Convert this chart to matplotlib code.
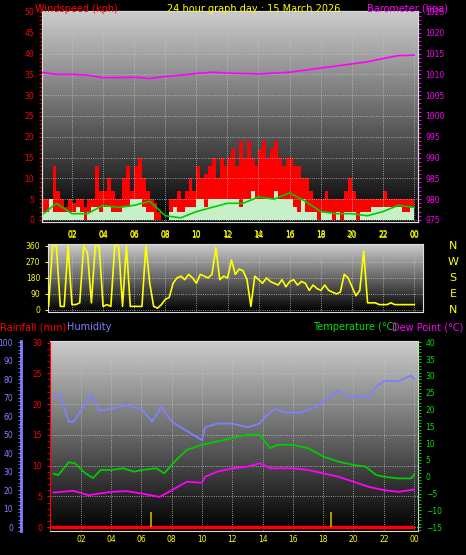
import matplotlib
matplotlib.use("Agg")
import matplotlib.pyplot as plt
import numpy as np
from matplotlib.ticker import MultipleLocator

q_hours = [i * 0.25 for i in range(96)]
gust = [5,5,5,13, 7,5,3,5, 4,5,5,3, 5,5,13,7, 7,10,7,5, 5,10,13,7, 13,15,10,7, 5,4,2,0,
        0,5,5,7, 5,7,10,7, 13,10,11,13, 15,10,15,13, 15,17,13,19, 15,19,15,13, 17,19,15,17,
        19,15,13,15, 15,13,13,10, 10,7,5,5, 5,7,5,5, 5,5,7,10, 7,5,5,5, 5,5,5,5, 7,5,5,5, 5,5,5,5]
speed = [2,2,5,2, 2,2,2,2, 2,3,2,0, 2,3,3,2, 3,3,2,2, 2,3,3,5, 5,5,3,2, 2,0,0,0,
         0,2,3,2, 2,3,3,3, 5,5,3,5, 5,5,5,5, 5,5,5,3, 5,5,7,5, 5,5,5,5, 7,5,5,5,
         5,3,2,5, 2,2,2,0, 2,2,2,0, 2,0,2,2, 2,0,2,2, 2,3,3,3, 3,3,3,3, 3,2,2,3]
h_hours = list(range(25))
avg_wind = [1,4,1.5,1.5,3.5,3,3.5,4.5,1,0.5,2,3,4,4,5.5,5,6.5,4.5,2,1.5,1.5,1,2,3.5,3]
pressure = [1010.5,1010,1010,1009.8,1009.2,1009.2,1009.3,1009.0,1009.5,1009.8,1010.2,1010.5,
            1010.3,1010.2,1010.1,1010.3,1010.5,1011,1011.5,1012,1012.5,1013,1013.8,1014.5,1014.6]
dir_hours = [i * 0.25 for i in range(97)]
direction = [30,20,20,360, 360,20,20,360, 30,30,40,360, 320,40,360,360, 20,30,20,360,
             360,20,360,20, 20,20,20,360, 150,20,10,30, 60,70,150,180, 190,170,200,180,
             150,200,190,180, 200,350,170,190, 180,280,200,230, 220,170,20,190,
             170,150,180,160, 150,140,170,130, 160,170,140,160, 150,110,140,120,
             110,140,110,100, 90,100,200,180, 130,80,110,330, 40,40,40,30, 30,30,40,30,
             30,30,30,30, 30]
hum_h = [0.2,0.6,1.2,1.5,2,2.7,3.2,4,5,6,6.7,7.3,8,9,10,10.2,11,12,13,13.8,14.2,14.8,15.5,16.5,
         17.5,18.5,19,19.8,20.5,21,21.5,22,23,23.8,24]
humidity = [70,72,57,57,63,72,63,64,66,64,57,65,57,52,47,54,56,56,54,56,60,64,62,62,
            65,71,74,70,71,70,76,79,79,82,80]
temp_h = [0.2,0.5,1.2,1.6,2.3,2.8,3.3,4,4.8,5.5,6,7,7.5,8.3,9,10,11,12,13,13.8,14.5,15,16,17,
          18,19,20,20.8,21.5,22,23,23.8,24]
temperature = [0.9,0.5,4.3,4,1,-0.4,2,2,2.5,1.5,2,2.5,1,5,8,9.5,10.5,11.5,12.5,12.5,8.5,9.5,
               9.5,8.5,6,4.5,3.5,3,0.5,0,-0.5,-0.5,0.5]
dew_h = [0.2,1.5,2.5,4,5,6,7.2,8,9,10,10.2,11,12,13,13.8,14.5,16,17,18,19,20,21,22,23,24]
dewpoint = [-4.7,-4.2,-5.5,-4.5,-4.3,-5,-6,-4,-1.5,-1.8,0,1.5,2.5,3,4,2.5,2.5,2,1,0,-1.5,
            -3,-4,-4.5,-3.8]
rain_marks = [6.6, 18.5]
xt = [2,4,6,8,10,12,14,16,18,20,22,24]
xtl = ['02','04','06','08','10','12','14','16','18','20','22','00']

fig = plt.figure(figsize=(4.66, 5.55), dpi=100, facecolor='black')
fs = 5.5

def bg(ax, top=0.8):
    grad = np.linspace(top, 0.0, 256).reshape(-1, 1)
    ax.imshow(grad, cmap='gray', vmin=0, vmax=1, aspect='auto',
              extent=[0, 1, 0, 1], transform=ax.transAxes, zorder=0)

def style(ax):
    ax.set_facecolor('black')
    for s in ax.spines.values():
        s.set_color('#dddddd')
    ax.set_xticks(xt)
    ax.set_xticklabels(xtl, color='yellow', fontsize=fs)
    ax.tick_params(axis='x', colors='#dddddd', labelcolor='yellow', length=0, pad=3)
    ax.grid(True, color='#c0c0c0', ls=':', lw=0.6)

# Top panel
ax1 = fig.add_axes([0.090, 0.600, 0.807, 0.380])
style(ax1)
bg(ax1)
ax1.set_xlim(0.07, 24.26)
ax1.set_ylim(-0.5, 50.2)
ax1.bar(q_hours, gust, width=0.25, align='edge', color='#ff0000', zorder=2)
ax1.bar(q_hours, speed, width=0.25, align='edge', color='#c8f0c8', zorder=3)
ax1.plot(h_hours, avg_wind, color='#00cc00', lw=1.2, zorder=4)
ax1.yaxis.set_major_locator(MultipleLocator(5))
ax1.yaxis.set_minor_locator(MultipleLocator(1))
ax1.tick_params(axis='y', which='both', colors='red', labelsize=fs, length=2)
ax1.tick_params(axis='x', pad=6)
ax1b = ax1.twinx()
ax1b.set_ylim(975 - 0.5, 1025.2)
ax1b.plot(h_hours, pressure, color='#ff00ff', lw=1.2, zorder=5)
ax1b.yaxis.set_major_locator(MultipleLocator(5))
ax1b.yaxis.set_minor_locator(MultipleLocator(1))
ax1b.tick_params(axis='y', which='both', colors='#ff00ff', labelsize=fs, length=2)
for s in ax1b.spines.values():
    s.set_color('#dddddd')
ax1.set_axisbelow(False)

fig.text(0.075, 0.992, 'Windspeed (kph)', color='red', fontsize=7, va='top')
fig.text(0.545, 0.992, '24 hour graph day : 15 March 2026', color='yellow', fontsize=7, va='top', ha='center')
fig.text(0.962, 0.992, 'Barometer (hpa)', color='#ff00ff', fontsize=7, va='top', ha='right')

# Direction panel
ax2 = fig.add_axes([0.103, 0.438, 0.805, 0.1225])
style(ax2)
bg(ax2)
ax2.set_xlim(0.46, 24.57)
ax2.set_ylim(-11, 371)
ax2.plot(dir_hours, direction, color='yellow', lw=1.2, zorder=3)
ax2.set_yticks([0, 90, 180, 270, 360])
ax2.tick_params(axis='y', colors='yellow', labelsize=fs, length=2)
ax2.xaxis.tick_top()
ax2.tick_params(axis='x', pad=3)
for lab, v in zip(['N', 'W', 'S', 'E', 'N'], [360, 270, 180, 90, 0]):
    ax2.text(1.08, (v + 11) / 382, lab, color='yellow', fontsize=8,
             transform=ax2.transAxes, va='center', ha='center')

fig.text(0.0, 0.41, 'Rainfall (mm)', color='red', fontsize=7, va='center')
fig.text(0.143, 0.41, 'Humidity', color='#8080ff', fontsize=7, va='center')
fig.text(0.672, 0.41, 'Temperature (°C)', color='#00e000', fontsize=7, va='center')
fig.text(0.995, 0.41, 'Dew Point (°C)', color='#ff00ff', fontsize=7, va='center', ha='right')

# Bottom panel
ax3 = fig.add_axes([0.107, 0.043, 0.790, 0.342])
style(ax3)
bg(ax3)
ax3.set_xlim(-0.05, 24.26)
ax3.set_ylim(-0.65, 30.2)
ax3.yaxis.set_major_locator(MultipleLocator(5))
ax3.yaxis.set_minor_locator(MultipleLocator(1))
ax3.tick_params(axis='y', which='both', colors='red', labelsize=fs, length=2)
ax3.spines['left'].set_color('red')
ax3.hlines(0, 0, 24, color='red', lw=2.5, zorder=5)
ax3.vlines(rain_marks, 0, 2.5, color='#c8b400', lw=1.2, zorder=5)

axh = ax3.twinx()
axh.spines['right'].set_visible(False)
axh.spines['top'].set_visible(False)
axh.spines['bottom'].set_visible(False)
axh.spines['left'].set_visible(True)
axh.spines['left'].set_position(('outward', 21))
axh.spines['left'].set_color('#8080ff')
axh.spines['left'].set_linewidth(2)
axh.yaxis.set_ticks_position('left')
axh.yaxis.set_label_position('left')
axh.set_ylim(-2.2, 100.5)
axh.yaxis.set_major_locator(MultipleLocator(10))
axh.yaxis.set_minor_locator(MultipleLocator(2))
axh.tick_params(axis='y', which='both', colors='#8080ff', labelsize=fs, length=2)
axh.plot(hum_h, humidity, color='#8080ff', lw=1.3, zorder=4)

axt = ax3.twinx()
axt.set_ylim(-16.2, 40.3)
axt.yaxis.set_major_locator(MultipleLocator(5))
axt.yaxis.set_minor_locator(MultipleLocator(1))
axt.tick_params(axis='y', which='both', colors='#00e000', labelsize=fs, length=2)
for s in axt.spines.values():
    s.set_visible(False)
axt.plot(temp_h, temperature, color='#00cc00', lw=1.3, zorder=4)
axt.plot(dew_h, dewpoint, color='#ff00ff', lw=1.3, zorder=4)

fig.savefig('out.png', dpi=100, facecolor='black')
